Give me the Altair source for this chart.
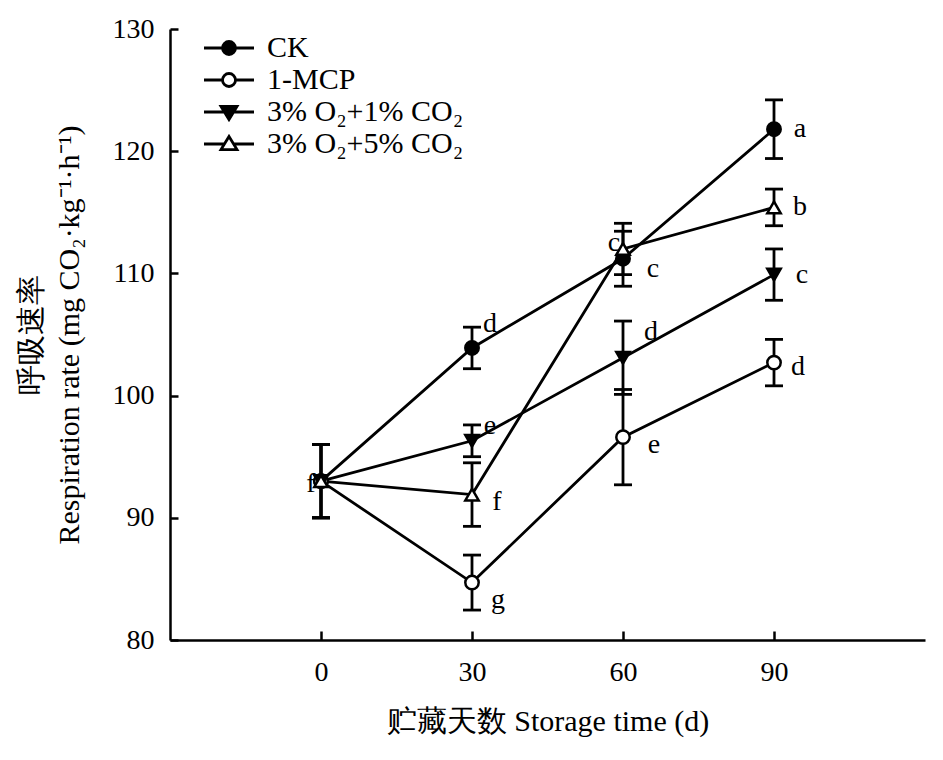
import altair as alt
import pandas as pd

# ---------------- data ----------------
days = [0, 30, 60, 90]
series_names = ["CK", "1-MCP", "3% O₂+1% CO₂", "3% O₂+5% CO₂"]

ck_mean = [93.0, 103.9, 111.2, 121.8]
ck_err = [3.0, 1.7, 2.25, 2.4]
mcp_mean = [93.0, 84.7, 96.6, 102.7]
mcp_err = [3.0, 2.25, 3.9, 1.9]
o1_mean = [93.0, 96.3, 103.1, 109.9]
o1_err = [3.0, 1.3, 3.0, 2.1]
o5_mean = [93.0, 91.9, 112.0, 115.4]
o5_err = [3.0, 2.6, 2.1, 1.5]

ck_letters = ["f", "d", "c", "a"]
mcp_letters = ["", "g", "e", "d"]
o1_letters = ["", "e", "d", "c"]
o5_letters = ["", "f", "c", "b"]

x_ticks = [0, 30, 60, 90]
y_ticks = [80, 90, 100, 110, 120, 130]

# ---------------- style ----------------
FONT = "Liberation Serif"
W, H = 755, 611
LW = 2.8

# pixel offsets of significance letters (style only)
letter_offsets = {
    ("CK", 0): (-10, 3), ("CK", 30): (18, -24), ("CK", 60): (30, 10), ("CK", 90): (26, 0),
    ("1-MCP", 30): (26, 17), ("1-MCP", 60): (31, 8), ("1-MCP", 90): (24, 4),
    ("3% O₂+1% CO₂", 30): (18, -15), ("3% O₂+1% CO₂", 60): (28, -26), ("3% O₂+1% CO₂", 90): (28, 0),
    ("3% O₂+5% CO₂", 30): (25, 7), ("3% O₂+5% CO₂", 60): (-9, -6), ("3% O₂+5% CO₂", 90): (26, 0),
}

rows = []
for name, means, errs, lets in zip(
    series_names,
    [ck_mean, mcp_mean, o1_mean, o5_mean],
    [ck_err, mcp_err, o1_err, o5_err],
    [ck_letters, mcp_letters, o1_letters, o5_letters],
):
    for d, m, e, l in zip(days, means, errs, lets):
        rows.append(dict(day=d, series=name, value=m, lo=m - e, hi=m + e, letter=l))
df = pd.DataFrame(rows)

xscale = alt.Scale(domain=[-30, 120], nice=False, zero=False)
yscale = alt.Scale(domain=[80, 130], nice=False, zero=False)

main_x_axis = alt.Axis(
    values=x_ticks, ticks=False, grid=False, domainWidth=2.5, domainColor="black",
    labelFont=FONT, labelFontSize=28, labelColor="black", labelPadding=18,
    titleFont=FONT, titleFontSize=30, titleColor="black", titleFontWeight="normal",
    titlePadding=20,
)
main_y_axis = alt.Axis(
    values=y_ticks, ticks=False, grid=False, domainWidth=2.5, domainColor="black",
    labelFont=FONT, labelFontSize=28, labelColor="black", labelPadding=16,
    titleFont=FONT, titleFontSize=30, titleColor="black", titleFontWeight="normal",
    titlePadding=28, titleLineHeight=38,
)
tick_x_axis = alt.Axis(
    orient="top", offset=-H, values=x_ticks, labels=False, domain=False, grid=False,
    ticks=True, tickSize=9, tickWidth=2.5, tickColor="black",
)
tick_y_axis = alt.Axis(
    orient="right", offset=-W, values=y_ticks, labels=False, domain=False, grid=False,
    ticks=True, tickSize=8, tickWidth=2.5, tickColor="black",
)

base = alt.Chart(df)

lines = base.mark_line(color="black", strokeWidth=LW).encode(
    x=alt.X("day:Q", scale=xscale, axis=main_x_axis, title="贮藏天数 Storage time (d)"),
    y=alt.Y("value:Q", scale=yscale, axis=main_y_axis,
            title=["呼吸速率", "Respiration rate (mg CO₂·kg⁻¹·h⁻¹)"]),
    detail="series:N",
)

rules = base.mark_rule(color="black", strokeWidth=LW).encode(
    x=alt.X("day:Q", scale=xscale, axis=tick_x_axis, title=""),
    y=alt.Y("lo:Q", scale=yscale, axis=tick_y_axis, title=""),
    y2="hi:Q",
)

cap_lo = base.mark_tick(orient="horizontal", size=18, thickness=LW, color="black", opacity=1).encode(
    x=alt.X("day:Q", scale=xscale, axis=None),
    y=alt.Y("lo:Q", scale=yscale, axis=None),
)
cap_hi = base.mark_tick(orient="horizontal", size=18, thickness=LW, color="black", opacity=1).encode(
    x=alt.X("day:Q", scale=xscale, axis=None),
    y=alt.Y("hi:Q", scale=yscale, axis=None),
)

shape_range = ["circle", "circle", "triangle-down", "triangle-up"]
fill_range = ["black", "white", "black", "white"]
size_range = [180, 180, 240, 240]

points = base.mark_point(opacity=1, strokeWidth=2.5, fillOpacity=1).encode(
    x=alt.X("day:Q", scale=xscale, axis=None),
    y=alt.Y("value:Q", scale=yscale, axis=None),
    shape=alt.Shape("series:N", scale=alt.Scale(domain=series_names, range=shape_range), legend=None),
    fill=alt.Fill("series:N", scale=alt.Scale(domain=series_names, range=fill_range), legend=None),
    size=alt.Size("series:N", scale=alt.Scale(domain=series_names, range=size_range), legend=None),
    stroke=alt.value("black"),
)

# legend symbols: a line through a marker, drawn with strokes only
# (filled markers are drawn as nested outlines)
def circ(r):
    return f"M{r},0A{r},{r},0,1,1,{-r},0A{r},{r},0,1,1,{r},0Z"

def tri_down(s):
    cy = -0.1
    return (f"M{-0.64*s:.3f},{cy-0.35*s:.3f}L{0.64*s:.3f},{cy-0.35*s:.3f}"
            f"L0,{cy+0.7*s:.3f}Z")

legend_paths = [
    "M-2,0H2" + circ(0.52) + circ(0.31) + circ(0.1),
    "M-2,0H-0.52M0.52,0H2" + circ(0.52),
    "M-2,0H2" + tri_down(1.0) + tri_down(0.55) + tri_down(0.15),
    "M-2,0H-0.37M0.37,0H2M0,-0.6L0.64,0.45L-0.64,0.45Z",
]
legend_layer = base.transform_filter("false").mark_point(
    opacity=1, strokeWidth=LW, filled=False, color="black"
).encode(
    x=alt.X("day:Q", scale=xscale, axis=None),
    y=alt.Y("value:Q", scale=yscale, axis=None),
    shape=alt.Shape(
        "series:N", scale=alt.Scale(domain=series_names, range=legend_paths),
        legend=alt.Legend(
            orient="none", legendX=44, legendY=4, title=None, padding=0,
            symbolSize=625, symbolStrokeWidth=LW, symbolStrokeColor="black",
            symbolFillColor="transparent", symbolOpacity=1,
            labelFont=FONT, labelFontSize=30, labelColor="black", labelOffset=23,
            labelLimit=500, rowPadding=2,
        ),
    ),
    stroke=alt.value("black"),
)

text_layers = []
for (s, d), (dx, dy) in letter_offsets.items():
    t = base.transform_filter(
        (alt.datum.series == s) & (alt.datum.day == d)
    ).mark_text(dx=dx, dy=dy, font=FONT, fontSize=28, color="black",
                align="center", baseline="middle").encode(
        x=alt.X("day:Q", scale=xscale, axis=None),
        y=alt.Y("value:Q", scale=yscale, axis=None),
        text="letter:N",
    )
    text_layers.append(t)

chart = alt.layer(
    lines, rules, cap_lo, cap_hi, *text_layers, points, legend_layer
).resolve_axis(
    x="independent", y="independent"
).resolve_scale(
    shape="independent", fill="independent", size="independent"
).properties(
    width=W, height=H,
    padding={"left": 162, "top": 21, "right": 10, "bottom": 100},
    autosize=alt.AutoSizeParams(type="none"),
    background="white",
).configure_view(strokeWidth=0)

chart.save("out.html", embed_options={"renderer": "svg", "actions": False})
